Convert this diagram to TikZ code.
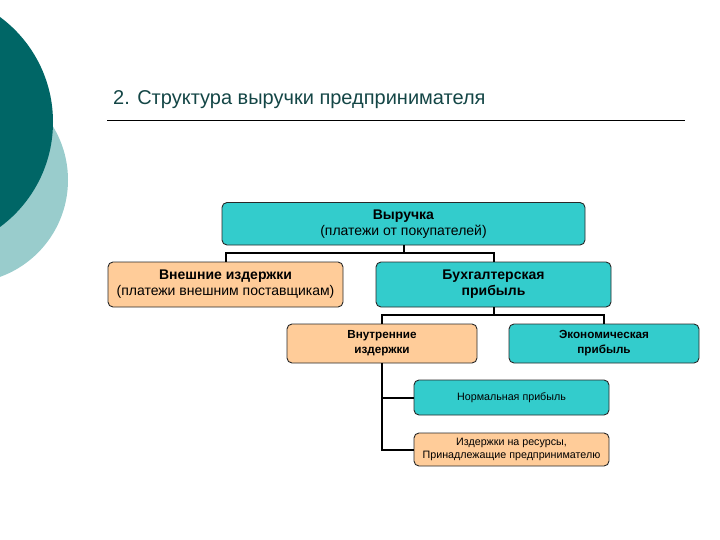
\documentclass[tikz,border=0pt]{standalone}
\usepackage{fontspec}
\setmainfont{Liberation Sans}
\definecolor{darkteal}{RGB}{0,102,102}
\definecolor{lightteal}{RGB}{153,204,204}
\definecolor{titlecol}{RGB}{20,70,70}
\definecolor{tealfill}{RGB}{51,204,204}
\definecolor{peach}{RGB}{255,204,153}
\definecolor{edge}{RGB}{40,40,40}
\tikzset{
  box/.style={draw=edge, line width=0.9pt, rounded corners=5pt, align=center, inner sep=1pt, text=black},
  tealbox/.style={box, fill=tealfill},
  peachbox/.style={box, fill=peach},
  bigtxt/.style={font=\fontsize{14}{16}\selectfont},
  midtxt/.style={font=\fontsize{11.7}{15}\selectfont},
  smalltxt/.style={font=\fontsize{10.7}{13}\selectfont},
  conn/.style={draw=black, line width=2pt},
}
\begin{document}
\begin{tikzpicture}[x=1pt,y=-1pt]
\useasboundingbox (0,0) rectangle (720,540);
\begin{scope}
\clip (0,0) rectangle (720,540);
\fill[lightteal] (-35,180) circle (103);
\fill[darkteal] (-77.5,122) circle (130.5);
\end{scope}
\node[anchor=west, text=titlecol, font=\fontsize{20}{22}\selectfont, inner sep=0pt] (title) at (113,100) {2. Структура выручки предпринимателя};
\coordinate (lineL) at (107,120);
\coordinate (lineR) at (685,120);
\draw[line width=0.9pt] (lineL) -- (lineR);

\node[tealbox, bigtxt, minimum width=363pt, minimum height=42.5pt] (b1) at (403.5,223.75) {\textbf{Выручка}\\(платежи от покупателей)};
\node[peachbox, bigtxt, minimum width=235pt, minimum height=45pt] (b2) at (225.5,284.5) {\textbf{Внешние издержки}\\(платежи внешним поставщикам)};
\node[tealbox, bigtxt, minimum width=235pt, minimum height=45pt] (b3) at (493.5,284.5) {\textbf{Бухгалтерская}\\\textbf{прибыль}};
\node[peachbox, midtxt, minimum width=190pt, minimum height=39pt] (b4) at (382,343.5) {\textbf{Внутренние}\\\textbf{издержки}};
\node[tealbox, midtxt, minimum width=190pt, minimum height=39pt] (b5) at (604,343.5) {\textbf{Экономическая}\\\textbf{прибыль}};
\node[tealbox, smalltxt, minimum width=195pt, minimum height=35pt] (b6) at (511.5,397.5) {Нормальная прибыль};
\node[peachbox, smalltxt, minimum width=195pt, minimum height=33pt] (b7) at (511.5,449.5) {Издержки на ресурсы,\\Принадлежащие предпринимателю};

\draw[conn] (b1.south) -- ++(0,8) -| (b2.north);
\draw[conn] (b1.south) -- ++(0,8) -| (b3.north);
\draw[conn] (b3.south) -- ++(0,8) -| (b4.north);
\draw[conn] (b3.south) -- ++(0,8) -| (b5.north);
\draw[conn] (b4.south) |- (b6.west);
\draw[conn] (b4.south) |- (b7.west);
\end{tikzpicture}
\end{document}
